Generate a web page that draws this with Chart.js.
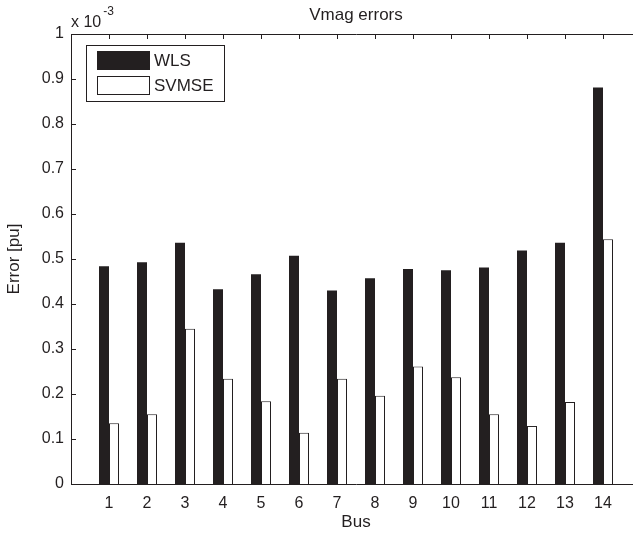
<!DOCTYPE html>
<html>
<head>
<meta charset="utf-8">
<title>Vmag errors</title>
<script src="https://cdn.jsdelivr.net/npm/chart.js@4.4.0/dist/chart.umd.min.js"></script>
<style>
  html, body { margin: 0; padding: 0; background: #fff; overflow: hidden; }
  #wrap { width: 660px; height: 533px; }
</style>
</head>
<body>
<div id="wrap"><canvas id="myChart" width="660" height="533"></canvas></div>
<script>
// datos (x 10^-3 pu)
const buses = [1, 2, 3, 4, 5, 6, 7, 8, 9, 10, 11, 12, 13, 14];
const wlsErr = [0.484, 0.493, 0.536, 0.433, 0.466, 0.507, 0.430, 0.457, 0.478, 0.475, 0.481, 0.519, 0.536, 0.881];
const svmseErr = [0.135, 0.155, 0.345, 0.234, 0.184, 0.114, 0.234, 0.196, 0.261, 0.237, 0.155, 0.129, 0.182, 0.544];
const yTickLabels = ['0', '0.1', '0.2', '0.3', '0.4', '0.5', '0.6', '0.7', '0.8', '0.9', '1'];
const seriesNames = ['WLS', 'SVMSE'];

const ink = '#231f20';
const fam = "'Liberation Sans', Arial, sans-serif";

// marcas de los ejes hacia dentro, estilo matlab
const innerTicks = {
  id: 'innerTicks',
  afterDraw(chart) {
    const { ctx, chartArea: ca } = chart;
    const x = chart.scales.x;
    const y = chart.scales.y;
    ctx.save();
    ctx.strokeStyle = ink;
    ctx.lineWidth = 1;
    ctx.beginPath();
    y.ticks.forEach((t) => {
      const py = Math.round(y.getPixelForValue(t.value)) + 0.5;
      ctx.moveTo(ca.left, py);
      ctx.lineTo(ca.left + 5, py);
      ctx.moveTo(ca.right, py);
      ctx.lineTo(ca.right - 5, py);
    });
    buses.forEach((b) => {
      const px = Math.round(x.getPixelForValue(b)) + 0.5;
      ctx.moveTo(px, ca.bottom);
      ctx.lineTo(px, ca.bottom - 5);
      ctx.moveTo(px, ca.top);
      ctx.lineTo(px, ca.top + 5);
    });
    ctx.stroke();

    // factor de escala arriba a la izquierda
    ctx.fillStyle = ink;
    ctx.textBaseline = 'alphabetic';
    ctx.textAlign = 'left';
    ctx.font = '16px ' + fam;
    ctx.fillText('x 10', ca.left, 27);
    const w = ctx.measureText('x 10').width;
    ctx.font = '12px ' + fam;
    ctx.fillText('-3', ca.left + w + 2, 15);
    ctx.restore();
  },
};

// leyenda con marco dentro del area
const boxLegend = {
  id: 'boxLegend',
  afterDraw(chart) {
    const { ctx, chartArea: ca } = chart;
    const left = ca.left + 15;
    const top = ca.top + 11;
    ctx.save();
    ctx.fillStyle = '#fff';
    ctx.fillRect(left, top, 138, 56);
    ctx.strokeStyle = ink;
    ctx.lineWidth = 1;
    ctx.strokeRect(left + 0.5, top + 0.5, 138, 56);
    ctx.font = '17px ' + fam;
    ctx.textBaseline = 'middle';
    ctx.textAlign = 'left';
    chart.data.datasets.forEach((ds, i) => {
      const sy = top + 6 + i * 25;
      ctx.fillStyle = ds.backgroundColor;
      ctx.fillRect(left + 11, sy, 53, 19);
      ctx.strokeStyle = ink;
      ctx.strokeRect(left + 11.5, sy + 0.5, 52, 18);
      ctx.fillStyle = ink;
      ctx.fillText(ds.label, left + 68, sy + 10);
    });
    ctx.restore();
  },
};

const ctx = document.getElementById('myChart').getContext('2d');

const myChart = new Chart(ctx, {
  type: 'bar',
  data: {
    datasets: [
      {
        label: seriesNames[0],
        data: buses.map((b, i) => ({ x: b, y: wlsErr[i] })),
        backgroundColor: ink,
        borderWidth: 0,
      },
      {
        label: seriesNames[1],
        data: buses.map((b, i) => ({ x: b, y: svmseErr[i] })),
        backgroundColor: '#ffffff',
        borderColor: ink,
        borderWidth: 1,
      },
    ],
  },
  options: {
    responsive: false,
    animation: false,
    devicePixelRatio: 1,
    categoryPercentage: 20 / 38,
    barPercentage: 1,
    layout: { padding: { left: 0, right: 19, top: 0, bottom: 0 } },
    plugins: {
      legend: { display: false },
      title: { display: false },
      tooltip: { enabled: false },
    },
    scales: {
      x: {
        type: 'linear',
        position: 'bottom',
        offset: false,
        min: 0,
        max: 15,
        grid: { display: false, drawTicks: false, offset: false },
        border: { display: true, color: ink, width: 1 },
        ticks: {
          stepSize: 1,
          autoSkip: false,
          maxRotation: 0,
          padding: 10,
          color: ink,
          font: { family: fam, size: 16 },
          callback: (v) => (buses.includes(v) ? String(v) : ''),
        },
        title: {
          display: true,
          text: 'Bus',
          color: ink,
          font: { family: fam, size: 17 },
          padding: { top: 0, bottom: 0 },
        },
        afterFit: (s) => { s.height = 49; },
      },
      x2: {
        type: 'linear',
        position: 'top',
        offset: false,
        min: 0,
        max: 15,
        grid: { display: false, drawTicks: false, offset: false },
        border: { display: true, color: ink, width: 1 },
        ticks: { display: false },
        title: {
          display: true,
          text: 'Vmag errors',
          color: ink,
          font: { family: fam, size: 17 },
          padding: { top: 5, bottom: 0 },
        },
        afterFit: (s) => { s.height = 34; },
      },
      y: {
        min: 0,
        max: 1,
        grid: { display: false, drawTicks: false },
        border: { display: true, color: ink, width: 1 },
        ticks: {
          stepSize: 0.1,
          padding: 7,
          color: ink,
          font: { family: fam, size: 16 },
          callback: (v, i) => yTickLabels[i],
        },
        title: {
          display: true,
          text: 'Error [pu]',
          color: ink,
          font: { family: fam, size: 17 },
          padding: { top: 4, bottom: 0 },
        },
        afterFit: (s) => { s.width = 71; },
      },
    },
  },
  plugins: [innerTicks, boxLegend],
});
</script>
</body>
</html>
